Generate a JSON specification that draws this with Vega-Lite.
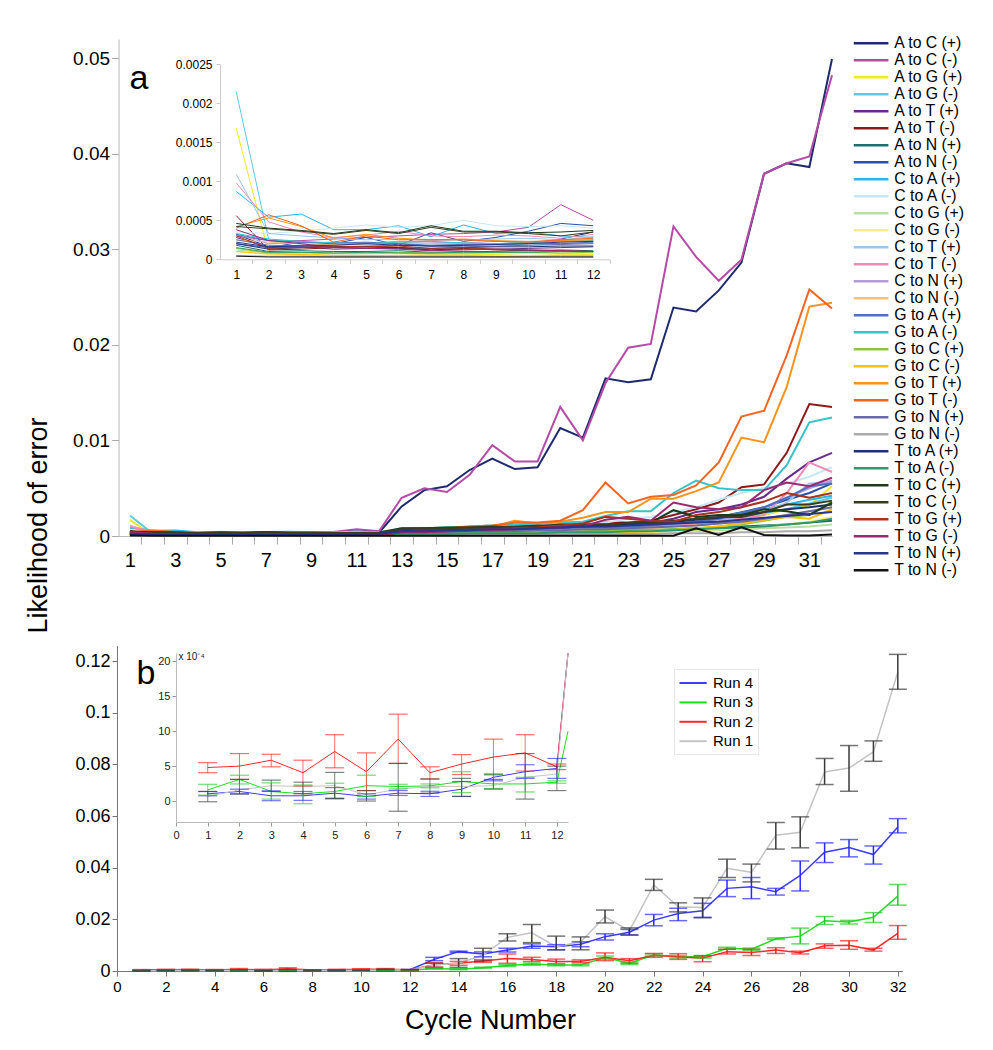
{
"$schema": "https://vega.github.io/schema/vega-lite/v6.json",
"width": 993, "height": 1050, "autosize": "none", "padding": 0, "background": "white",
"config": {"view": {"stroke": null}, "font": "Liberation Sans",
 "axis": {"grid": false, "labelFont": "Liberation Sans", "titleFont": "Liberation Sans", "labelColor": "#000", "titleColor": "#000", "titleFontWeight": "normal", "labelFlush": false, "labelOverlap": false, "labelBound": false, "domainColor": "#aaa", "tickColor": "#999"},
 "legend": {"labelFont": "Liberation Sans", "labelColor": "#000"}},
"datasets": {
"a": [
{"s":"AC+","c":1,"v":0.00032},{"s":"AC+","c":2,"v":0.00016},{"s":"AC+","c":3,"v":0.00018},{"s":"AC+","c":4,"v":0.00019},{"s":"AC+","c":5,"v":0.0002},{"s":"AC+","c":6,"v":0.0002},{"s":"AC+","c":7,"v":0.00017},{"s":"AC+","c":8,"v":0.00018},{"s":"AC+","c":9,"v":0.00019},{"s":"AC+","c":10,"v":0.0002},{"s":"AC+","c":11,"v":0.00026},{"s":"AC+","c":12,"v":0.00035},{"s":"AC+","c":13,"v":0.0031},{"s":"AC+","c":14,"v":0.0048},{"s":"AC+","c":15,"v":0.0052},{"s":"AC+","c":16,"v":0.0069},{"s":"AC+","c":17,"v":0.0081},{"s":"AC+","c":18,"v":0.007},{"s":"AC+","c":19,"v":0.0072},{"s":"AC+","c":20,"v":0.0113},{"s":"AC+","c":21,"v":0.0103},{"s":"AC+","c":22,"v":0.0165},{"s":"AC+","c":23,"v":0.0161},{"s":"AC+","c":24,"v":0.0164},{"s":"AC+","c":25,"v":0.0239},{"s":"AC+","c":26,"v":0.0235},{"s":"AC+","c":27,"v":0.0257},{"s":"AC+","c":28,"v":0.0286},{"s":"AC+","c":29,"v":0.0379},{"s":"AC+","c":30,"v":0.039},{"s":"AC+","c":31,"v":0.0386},{"s":"AC+","c":32,"v":0.0499},
{"s":"AC-","c":1,"v":0.0003},{"s":"AC-","c":2,"v":0.00024},{"s":"AC-","c":3,"v":0.00024},{"s":"AC-","c":4,"v":0.00026},{"s":"AC-","c":5,"v":0.00028},{"s":"AC-","c":6,"v":0.0003},{"s":"AC-","c":7,"v":0.00032},{"s":"AC-","c":8,"v":0.00033},{"s":"AC-","c":9,"v":0.00035},{"s":"AC-","c":10,"v":0.00041},{"s":"AC-","c":11,"v":0.0007},{"s":"AC-","c":12,"v":0.0005},{"s":"AC-","c":13,"v":0.004},{"s":"AC-","c":14,"v":0.005},{"s":"AC-","c":15,"v":0.0046},{"s":"AC-","c":16,"v":0.0064},{"s":"AC-","c":17,"v":0.0095},{"s":"AC-","c":18,"v":0.0078},{"s":"AC-","c":19,"v":0.0078},{"s":"AC-","c":20,"v":0.0135},{"s":"AC-","c":21,"v":0.01},{"s":"AC-","c":22,"v":0.016},{"s":"AC-","c":23,"v":0.0197},{"s":"AC-","c":24,"v":0.0201},{"s":"AC-","c":25,"v":0.0324},{"s":"AC-","c":26,"v":0.0292},{"s":"AC-","c":27,"v":0.0267},{"s":"AC-","c":28,"v":0.0289},{"s":"AC-","c":29,"v":0.0379},{"s":"AC-","c":30,"v":0.039},{"s":"AC-","c":31,"v":0.0397},{"s":"AC-","c":32,"v":0.0482},
{"s":"AG+","c":1,"v":0.00168},{"s":"AG+","c":2,"v":0.00008},{"s":"AG+","c":3,"v":0.00007},{"s":"AG+","c":4,"v":0.00005},{"s":"AG+","c":5,"v":0.00005},{"s":"AG+","c":6,"v":0.00005},{"s":"AG+","c":7,"v":0.00006},{"s":"AG+","c":8,"v":0.00006},{"s":"AG+","c":9,"v":0.00006},{"s":"AG+","c":10,"v":0.00005},{"s":"AG+","c":11,"v":0.00006},{"s":"AG+","c":12,"v":0.00006},{"s":"AG+","c":13,"v":0.0001},{"s":"AG+","c":14,"v":0.00015},{"s":"AG+","c":15,"v":0.0002},{"s":"AG+","c":16,"v":0.00025},{"s":"AG+","c":17,"v":0.0003},{"s":"AG+","c":18,"v":0.0003},{"s":"AG+","c":19,"v":0.0004},{"s":"AG+","c":20,"v":0.0005},{"s":"AG+","c":21,"v":0.0006},{"s":"AG+","c":22,"v":0.0007},{"s":"AG+","c":23,"v":0.0007},{"s":"AG+","c":24,"v":0.0008},{"s":"AG+","c":25,"v":0.001},{"s":"AG+","c":26,"v":0.0012},{"s":"AG+","c":27,"v":0.0015},{"s":"AG+","c":28,"v":0.0018},{"s":"AG+","c":29,"v":0.0022},{"s":"AG+","c":30,"v":0.0028},{"s":"AG+","c":31,"v":0.0032},{"s":"AG+","c":32,"v":0.0052},
{"s":"AG-","c":1,"v":0.00215},{"s":"AG-","c":2,"v":0.00025},{"s":"AG-","c":3,"v":0.00022},{"s":"AG-","c":4,"v":0.0002},{"s":"AG-","c":5,"v":0.00021},{"s":"AG-","c":6,"v":0.00022},{"s":"AG-","c":7,"v":0.0002},{"s":"AG-","c":8,"v":0.0002},{"s":"AG-","c":9,"v":0.00019},{"s":"AG-","c":10,"v":0.00018},{"s":"AG-","c":11,"v":0.0002},{"s":"AG-","c":12,"v":0.00021},{"s":"AG-","c":13,"v":0.0003},{"s":"AG-","c":14,"v":0.0003},{"s":"AG-","c":15,"v":0.0004},{"s":"AG-","c":16,"v":0.0005},{"s":"AG-","c":17,"v":0.0005},{"s":"AG-","c":18,"v":0.0006},{"s":"AG-","c":19,"v":0.0006},{"s":"AG-","c":20,"v":0.0007},{"s":"AG-","c":21,"v":0.0008},{"s":"AG-","c":22,"v":0.0009},{"s":"AG-","c":23,"v":0.001},{"s":"AG-","c":24,"v":0.0011},{"s":"AG-","c":25,"v":0.0013},{"s":"AG-","c":26,"v":0.0015},{"s":"AG-","c":27,"v":0.0017},{"s":"AG-","c":28,"v":0.002},{"s":"AG-","c":29,"v":0.0024},{"s":"AG-","c":30,"v":0.0028},{"s":"AG-","c":31,"v":0.0034},{"s":"AG-","c":32,"v":0.004},
{"s":"AT+","c":1,"v":0.00028},{"s":"AT+","c":2,"v":0.00015},{"s":"AT+","c":3,"v":0.00016},{"s":"AT+","c":4,"v":0.00013},{"s":"AT+","c":5,"v":0.00014},{"s":"AT+","c":6,"v":0.00014},{"s":"AT+","c":7,"v":0.00012},{"s":"AT+","c":8,"v":0.00013},{"s":"AT+","c":9,"v":0.00013},{"s":"AT+","c":10,"v":0.00014},{"s":"AT+","c":11,"v":0.00015},{"s":"AT+","c":12,"v":0.00016},{"s":"AT+","c":13,"v":0.0004},{"s":"AT+","c":14,"v":0.0004},{"s":"AT+","c":15,"v":0.0005},{"s":"AT+","c":16,"v":0.0005},{"s":"AT+","c":17,"v":0.0006},{"s":"AT+","c":18,"v":0.0006},{"s":"AT+","c":19,"v":0.0007},{"s":"AT+","c":20,"v":0.0008},{"s":"AT+","c":21,"v":0.0009},{"s":"AT+","c":22,"v":0.001},{"s":"AT+","c":23,"v":0.0012},{"s":"AT+","c":24,"v":0.0014},{"s":"AT+","c":25,"v":0.0018},{"s":"AT+","c":26,"v":0.0025},{"s":"AT+","c":27,"v":0.0028},{"s":"AT+","c":28,"v":0.0033},{"s":"AT+","c":29,"v":0.0041},{"s":"AT+","c":30,"v":0.006},{"s":"AT+","c":31,"v":0.0077},{"s":"AT+","c":32,"v":0.0087},
{"s":"AT-","c":1,"v":0.00056},{"s":"AT-","c":2,"v":0.00012},{"s":"AT-","c":3,"v":0.00013},{"s":"AT-","c":4,"v":0.00015},{"s":"AT-","c":5,"v":0.00016},{"s":"AT-","c":6,"v":0.00015},{"s":"AT-","c":7,"v":0.00012},{"s":"AT-","c":8,"v":0.00014},{"s":"AT-","c":9,"v":0.00012},{"s":"AT-","c":10,"v":0.00011},{"s":"AT-","c":11,"v":0.0001},{"s":"AT-","c":12,"v":0.0001},{"s":"AT-","c":13,"v":0.0005},{"s":"AT-","c":14,"v":0.0006},{"s":"AT-","c":15,"v":0.0006},{"s":"AT-","c":16,"v":0.0008},{"s":"AT-","c":17,"v":0.0009},{"s":"AT-","c":18,"v":0.0009},{"s":"AT-","c":19,"v":0.001},{"s":"AT-","c":20,"v":0.0012},{"s":"AT-","c":21,"v":0.0013},{"s":"AT-","c":22,"v":0.0014},{"s":"AT-","c":23,"v":0.0014},{"s":"AT-","c":24,"v":0.0016},{"s":"AT-","c":25,"v":0.0022},{"s":"AT-","c":26,"v":0.0028},{"s":"AT-","c":27,"v":0.0035},{"s":"AT-","c":28,"v":0.0051},{"s":"AT-","c":29,"v":0.0054},{"s":"AT-","c":30,"v":0.0087},{"s":"AT-","c":31,"v":0.0138},{"s":"AT-","c":32,"v":0.0135},
{"s":"AN+","c":1,"v":0.00018},{"s":"AN+","c":2,"v":0.0001},{"s":"AN+","c":3,"v":0.00011},{"s":"AN+","c":4,"v":0.0001},{"s":"AN+","c":5,"v":0.0001},{"s":"AN+","c":6,"v":0.00011},{"s":"AN+","c":7,"v":0.00009},{"s":"AN+","c":8,"v":0.0001},{"s":"AN+","c":9,"v":0.0001},{"s":"AN+","c":10,"v":0.00011},{"s":"AN+","c":11,"v":0.00012},{"s":"AN+","c":12,"v":0.00011},{"s":"AN+","c":13,"v":0.0003},{"s":"AN+","c":14,"v":0.0003},{"s":"AN+","c":15,"v":0.0003},{"s":"AN+","c":16,"v":0.0004},{"s":"AN+","c":17,"v":0.0004},{"s":"AN+","c":18,"v":0.0004},{"s":"AN+","c":19,"v":0.0005},{"s":"AN+","c":20,"v":0.0005},{"s":"AN+","c":21,"v":0.0005},{"s":"AN+","c":22,"v":0.0006},{"s":"AN+","c":23,"v":0.0006},{"s":"AN+","c":24,"v":0.0006},{"s":"AN+","c":25,"v":0.0007},{"s":"AN+","c":26,"v":0.0008},{"s":"AN+","c":27,"v":0.0009},{"s":"AN+","c":28,"v":0.001},{"s":"AN+","c":29,"v":0.0011},{"s":"AN+","c":30,"v":0.0012},{"s":"AN+","c":31,"v":0.0014},{"s":"AN+","c":32,"v":0.0016},
{"s":"AN-","c":1,"v":0.0002},{"s":"AN-","c":2,"v":0.00015},{"s":"AN-","c":3,"v":0.00022},{"s":"AN-","c":4,"v":0.0002},{"s":"AN-","c":5,"v":0.00028},{"s":"AN-","c":6,"v":0.00018},{"s":"AN-","c":7,"v":0.00034},{"s":"AN-","c":8,"v":0.00023},{"s":"AN-","c":9,"v":0.00028},{"s":"AN-","c":10,"v":0.00036},{"s":"AN-","c":11,"v":0.00046},{"s":"AN-","c":12,"v":0.00043},{"s":"AN-","c":13,"v":0.0006},{"s":"AN-","c":14,"v":0.0007},{"s":"AN-","c":15,"v":0.0007},{"s":"AN-","c":16,"v":0.0008},{"s":"AN-","c":17,"v":0.0008},{"s":"AN-","c":18,"v":0.0009},{"s":"AN-","c":19,"v":0.0009},{"s":"AN-","c":20,"v":0.001},{"s":"AN-","c":21,"v":0.0011},{"s":"AN-","c":22,"v":0.0012},{"s":"AN-","c":23,"v":0.0012},{"s":"AN-","c":24,"v":0.0014},{"s":"AN-","c":25,"v":0.0015},{"s":"AN-","c":26,"v":0.0018},{"s":"AN-","c":27,"v":0.002},{"s":"AN-","c":28,"v":0.0025},{"s":"AN-","c":29,"v":0.003},{"s":"AN-","c":30,"v":0.0038},{"s":"AN-","c":31,"v":0.0045},{"s":"AN-","c":32,"v":0.0055},
{"s":"CA+","c":1,"v":0.00087},{"s":"CA+","c":2,"v":0.00054},{"s":"CA+","c":3,"v":0.00058},{"s":"CA+","c":4,"v":0.00038},{"s":"CA+","c":5,"v":0.00038},{"s":"CA+","c":6,"v":0.00043},{"s":"CA+","c":7,"v":0.00029},{"s":"CA+","c":8,"v":0.00044},{"s":"CA+","c":9,"v":0.00033},{"s":"CA+","c":10,"v":0.00035},{"s":"CA+","c":11,"v":0.0003},{"s":"CA+","c":12,"v":0.00028},{"s":"CA+","c":13,"v":0.0007},{"s":"CA+","c":14,"v":0.0007},{"s":"CA+","c":15,"v":0.0008},{"s":"CA+","c":16,"v":0.0008},{"s":"CA+","c":17,"v":0.0009},{"s":"CA+","c":18,"v":0.0009},{"s":"CA+","c":19,"v":0.001},{"s":"CA+","c":20,"v":0.001},{"s":"CA+","c":21,"v":0.0011},{"s":"CA+","c":22,"v":0.0011},{"s":"CA+","c":23,"v":0.0012},{"s":"CA+","c":24,"v":0.0013},{"s":"CA+","c":25,"v":0.0015},{"s":"CA+","c":26,"v":0.0018},{"s":"CA+","c":27,"v":0.002},{"s":"CA+","c":28,"v":0.0024},{"s":"CA+","c":29,"v":0.0028},{"s":"CA+","c":30,"v":0.0033},{"s":"CA+","c":31,"v":0.0038},{"s":"CA+","c":32,"v":0.0042},
{"s":"CA-","c":1,"v":0.00035},{"s":"CA-","c":2,"v":0.00033},{"s":"CA-","c":3,"v":0.00036},{"s":"CA-","c":4,"v":0.0004},{"s":"CA-","c":5,"v":0.00044},{"s":"CA-","c":6,"v":0.00041},{"s":"CA-","c":7,"v":0.00043},{"s":"CA-","c":8,"v":0.0005},{"s":"CA-","c":9,"v":0.00043},{"s":"CA-","c":10,"v":0.00042},{"s":"CA-","c":11,"v":0.00043},{"s":"CA-","c":12,"v":0.0004},{"s":"CA-","c":13,"v":0.0008},{"s":"CA-","c":14,"v":0.0008},{"s":"CA-","c":15,"v":0.0009},{"s":"CA-","c":16,"v":0.0009},{"s":"CA-","c":17,"v":0.001},{"s":"CA-","c":18,"v":0.001},{"s":"CA-","c":19,"v":0.0011},{"s":"CA-","c":20,"v":0.0012},{"s":"CA-","c":21,"v":0.0013},{"s":"CA-","c":22,"v":0.0014},{"s":"CA-","c":23,"v":0.0018},{"s":"CA-","c":24,"v":0.002},{"s":"CA-","c":25,"v":0.0025},{"s":"CA-","c":26,"v":0.003},{"s":"CA-","c":27,"v":0.0038},{"s":"CA-","c":28,"v":0.0045},{"s":"CA-","c":29,"v":0.005},{"s":"CA-","c":30,"v":0.0055},{"s":"CA-","c":31,"v":0.0062},{"s":"CA-","c":32,"v":0.0072},
{"s":"CG+","c":1,"v":0.00012},{"s":"CG+","c":2,"v":0.00008},{"s":"CG+","c":3,"v":0.00008},{"s":"CG+","c":4,"v":0.00007},{"s":"CG+","c":5,"v":0.00007},{"s":"CG+","c":6,"v":0.00008},{"s":"CG+","c":7,"v":0.00007},{"s":"CG+","c":8,"v":0.00007},{"s":"CG+","c":9,"v":0.00008},{"s":"CG+","c":10,"v":0.00008},{"s":"CG+","c":11,"v":0.00008},{"s":"CG+","c":12,"v":0.00008},{"s":"CG+","c":13,"v":0.0001},{"s":"CG+","c":14,"v":0.0001},{"s":"CG+","c":15,"v":0.0002},{"s":"CG+","c":16,"v":0.0002},{"s":"CG+","c":17,"v":0.0002},{"s":"CG+","c":18,"v":0.0002},{"s":"CG+","c":19,"v":0.0003},{"s":"CG+","c":20,"v":0.0003},{"s":"CG+","c":21,"v":0.0003},{"s":"CG+","c":22,"v":0.0003},{"s":"CG+","c":23,"v":0.0004},{"s":"CG+","c":24,"v":0.0004},{"s":"CG+","c":25,"v":0.0005},{"s":"CG+","c":26,"v":0.0005},{"s":"CG+","c":27,"v":0.0006},{"s":"CG+","c":28,"v":0.0007},{"s":"CG+","c":29,"v":0.0008},{"s":"CG+","c":30,"v":0.0009},{"s":"CG+","c":31,"v":0.001},{"s":"CG+","c":32,"v":0.0012},
{"s":"CG-","c":1,"v":0.0001},{"s":"CG-","c":2,"v":0.00006},{"s":"CG-","c":3,"v":0.00005},{"s":"CG-","c":4,"v":0.00004},{"s":"CG-","c":5,"v":0.00004},{"s":"CG-","c":6,"v":0.00005},{"s":"CG-","c":7,"v":0.00004},{"s":"CG-","c":8,"v":0.00004},{"s":"CG-","c":9,"v":0.00004},{"s":"CG-","c":10,"v":0.00003},{"s":"CG-","c":11,"v":0.00004},{"s":"CG-","c":12,"v":0.00004},{"s":"CG-","c":13,"v":0.0001},{"s":"CG-","c":14,"v":0.0001},{"s":"CG-","c":15,"v":0.0001},{"s":"CG-","c":16,"v":0.0002},{"s":"CG-","c":17,"v":0.0002},{"s":"CG-","c":18,"v":0.0002},{"s":"CG-","c":19,"v":0.0002},{"s":"CG-","c":20,"v":0.0003},{"s":"CG-","c":21,"v":0.0003},{"s":"CG-","c":22,"v":0.0003},{"s":"CG-","c":23,"v":0.0004},{"s":"CG-","c":24,"v":0.0004},{"s":"CG-","c":25,"v":0.0005},{"s":"CG-","c":26,"v":0.0006},{"s":"CG-","c":27,"v":0.0007},{"s":"CG-","c":28,"v":0.0008},{"s":"CG-","c":29,"v":0.001},{"s":"CG-","c":30,"v":0.0012},{"s":"CG-","c":31,"v":0.0015},{"s":"CG-","c":32,"v":0.002},
{"s":"CT+","c":1,"v":0.00109},{"s":"CT+","c":2,"v":0.00033},{"s":"CT+","c":3,"v":0.0003},{"s":"CT+","c":4,"v":0.00027},{"s":"CT+","c":5,"v":0.00025},{"s":"CT+","c":6,"v":0.00026},{"s":"CT+","c":7,"v":0.00024},{"s":"CT+","c":8,"v":0.00025},{"s":"CT+","c":9,"v":0.00026},{"s":"CT+","c":10,"v":0.00027},{"s":"CT+","c":11,"v":0.00025},{"s":"CT+","c":12,"v":0.00029},{"s":"CT+","c":13,"v":0.0005},{"s":"CT+","c":14,"v":0.0005},{"s":"CT+","c":15,"v":0.0005},{"s":"CT+","c":16,"v":0.0006},{"s":"CT+","c":17,"v":0.0006},{"s":"CT+","c":18,"v":0.0006},{"s":"CT+","c":19,"v":0.0007},{"s":"CT+","c":20,"v":0.0007},{"s":"CT+","c":21,"v":0.0008},{"s":"CT+","c":22,"v":0.0008},{"s":"CT+","c":23,"v":0.0009},{"s":"CT+","c":24,"v":0.001},{"s":"CT+","c":25,"v":0.0012},{"s":"CT+","c":26,"v":0.0014},{"s":"CT+","c":27,"v":0.0016},{"s":"CT+","c":28,"v":0.002},{"s":"CT+","c":29,"v":0.0025},{"s":"CT+","c":30,"v":0.0035},{"s":"CT+","c":31,"v":0.0055},{"s":"CT+","c":32,"v":0.0056},
{"s":"CT-","c":1,"v":0.00098},{"s":"CT-","c":2,"v":0.00048},{"s":"CT-","c":3,"v":0.00035},{"s":"CT-","c":4,"v":0.00028},{"s":"CT-","c":5,"v":0.00031},{"s":"CT-","c":6,"v":0.00036},{"s":"CT-","c":7,"v":0.0003},{"s":"CT-","c":8,"v":0.00029},{"s":"CT-","c":9,"v":0.00031},{"s":"CT-","c":10,"v":0.0003},{"s":"CT-","c":11,"v":0.00027},{"s":"CT-","c":12,"v":0.00032},{"s":"CT-","c":13,"v":0.0004},{"s":"CT-","c":14,"v":0.0004},{"s":"CT-","c":15,"v":0.0005},{"s":"CT-","c":16,"v":0.0005},{"s":"CT-","c":17,"v":0.0005},{"s":"CT-","c":18,"v":0.0006},{"s":"CT-","c":19,"v":0.0006},{"s":"CT-","c":20,"v":0.0007},{"s":"CT-","c":21,"v":0.0007},{"s":"CT-","c":22,"v":0.0008},{"s":"CT-","c":23,"v":0.0009},{"s":"CT-","c":24,"v":0.001},{"s":"CT-","c":25,"v":0.0011},{"s":"CT-","c":26,"v":0.0013},{"s":"CT-","c":27,"v":0.0015},{"s":"CT-","c":28,"v":0.0018},{"s":"CT-","c":29,"v":0.0022},{"s":"CT-","c":30,"v":0.0045},{"s":"CT-","c":31,"v":0.0077},{"s":"CT-","c":32,"v":0.0067},
{"s":"CN+","c":1,"v":0.00032},{"s":"CN+","c":2,"v":0.0002},{"s":"CN+","c":3,"v":0.00021},{"s":"CN+","c":4,"v":0.00022},{"s":"CN+","c":5,"v":0.00021},{"s":"CN+","c":6,"v":0.00023},{"s":"CN+","c":7,"v":0.00022},{"s":"CN+","c":8,"v":0.00021},{"s":"CN+","c":9,"v":0.00023},{"s":"CN+","c":10,"v":0.00022},{"s":"CN+","c":11,"v":0.00024},{"s":"CN+","c":12,"v":0.00025},{"s":"CN+","c":13,"v":0.0004},{"s":"CN+","c":14,"v":0.0004},{"s":"CN+","c":15,"v":0.0005},{"s":"CN+","c":16,"v":0.0005},{"s":"CN+","c":17,"v":0.0005},{"s":"CN+","c":18,"v":0.0006},{"s":"CN+","c":19,"v":0.0006},{"s":"CN+","c":20,"v":0.0007},{"s":"CN+","c":21,"v":0.0007},{"s":"CN+","c":22,"v":0.0008},{"s":"CN+","c":23,"v":0.0009},{"s":"CN+","c":24,"v":0.001},{"s":"CN+","c":25,"v":0.0012},{"s":"CN+","c":26,"v":0.0014},{"s":"CN+","c":27,"v":0.0017},{"s":"CN+","c":28,"v":0.0022},{"s":"CN+","c":29,"v":0.003},{"s":"CN+","c":30,"v":0.004},{"s":"CN+","c":31,"v":0.005},{"s":"CN+","c":32,"v":0.0058},
{"s":"CN-","c":1,"v":0.00025},{"s":"CN-","c":2,"v":0.00022},{"s":"CN-","c":3,"v":0.0002},{"s":"CN-","c":4,"v":0.00019},{"s":"CN-","c":5,"v":0.0002},{"s":"CN-","c":6,"v":0.00021},{"s":"CN-","c":7,"v":0.0002},{"s":"CN-","c":8,"v":0.00019},{"s":"CN-","c":9,"v":0.0002},{"s":"CN-","c":10,"v":0.00021},{"s":"CN-","c":11,"v":0.00022},{"s":"CN-","c":12,"v":0.00023},{"s":"CN-","c":13,"v":0.0004},{"s":"CN-","c":14,"v":0.0004},{"s":"CN-","c":15,"v":0.0004},{"s":"CN-","c":16,"v":0.0005},{"s":"CN-","c":17,"v":0.0005},{"s":"CN-","c":18,"v":0.0005},{"s":"CN-","c":19,"v":0.0006},{"s":"CN-","c":20,"v":0.0006},{"s":"CN-","c":21,"v":0.0007},{"s":"CN-","c":22,"v":0.0007},{"s":"CN-","c":23,"v":0.0008},{"s":"CN-","c":24,"v":0.0008},{"s":"CN-","c":25,"v":0.001},{"s":"CN-","c":26,"v":0.0011},{"s":"CN-","c":27,"v":0.0013},{"s":"CN-","c":28,"v":0.0015},{"s":"CN-","c":29,"v":0.0018},{"s":"CN-","c":30,"v":0.0022},{"s":"CN-","c":31,"v":0.0026},{"s":"CN-","c":32,"v":0.003},
{"s":"GA+","c":1,"v":0.00032},{"s":"GA+","c":2,"v":0.00024},{"s":"GA+","c":3,"v":0.00022},{"s":"GA+","c":4,"v":0.00021},{"s":"GA+","c":5,"v":0.00022},{"s":"GA+","c":6,"v":0.0002},{"s":"GA+","c":7,"v":0.00018},{"s":"GA+","c":8,"v":0.00019},{"s":"GA+","c":9,"v":0.0002},{"s":"GA+","c":10,"v":0.00021},{"s":"GA+","c":11,"v":0.0002},{"s":"GA+","c":12,"v":0.00022},{"s":"GA+","c":13,"v":0.0005},{"s":"GA+","c":14,"v":0.0005},{"s":"GA+","c":15,"v":0.0006},{"s":"GA+","c":16,"v":0.0006},{"s":"GA+","c":17,"v":0.0006},{"s":"GA+","c":18,"v":0.0007},{"s":"GA+","c":19,"v":0.0007},{"s":"GA+","c":20,"v":0.0008},{"s":"GA+","c":21,"v":0.0009},{"s":"GA+","c":22,"v":0.0009},{"s":"GA+","c":23,"v":0.001},{"s":"GA+","c":24,"v":0.0011},{"s":"GA+","c":25,"v":0.0013},{"s":"GA+","c":26,"v":0.0015},{"s":"GA+","c":27,"v":0.0018},{"s":"GA+","c":28,"v":0.0024},{"s":"GA+","c":29,"v":0.003},{"s":"GA+","c":30,"v":0.004},{"s":"GA+","c":31,"v":0.0052},{"s":"GA+","c":32,"v":0.0055},
{"s":"GA-","c":1,"v":0.00033},{"s":"GA-","c":2,"v":0.00026},{"s":"GA-","c":3,"v":0.00023},{"s":"GA-","c":4,"v":0.00021},{"s":"GA-","c":5,"v":0.0002},{"s":"GA-","c":6,"v":0.00022},{"s":"GA-","c":7,"v":0.00023},{"s":"GA-","c":8,"v":0.00021},{"s":"GA-","c":9,"v":0.0002},{"s":"GA-","c":10,"v":0.00022},{"s":"GA-","c":11,"v":0.00023},{"s":"GA-","c":12,"v":0.00024},{"s":"GA-","c":13,"v":0.0008},{"s":"GA-","c":14,"v":0.0008},{"s":"GA-","c":15,"v":0.0009},{"s":"GA-","c":16,"v":0.001},{"s":"GA-","c":17,"v":0.0011},{"s":"GA-","c":18,"v":0.0012},{"s":"GA-","c":19,"v":0.0013},{"s":"GA-","c":20,"v":0.0014},{"s":"GA-","c":21,"v":0.0015},{"s":"GA-","c":22,"v":0.0021},{"s":"GA-","c":23,"v":0.0026},{"s":"GA-","c":24,"v":0.0026},{"s":"GA-","c":25,"v":0.0045},{"s":"GA-","c":26,"v":0.0058},{"s":"GA-","c":27,"v":0.005},{"s":"GA-","c":28,"v":0.0048},{"s":"GA-","c":29,"v":0.0048},{"s":"GA-","c":30,"v":0.0074},{"s":"GA-","c":31,"v":0.0119},{"s":"GA-","c":32,"v":0.0124},
{"s":"GC+","c":1,"v":0.00014},{"s":"GC+","c":2,"v":0.00008},{"s":"GC+","c":3,"v":0.00009},{"s":"GC+","c":4,"v":0.00008},{"s":"GC+","c":5,"v":0.00008},{"s":"GC+","c":6,"v":0.00009},{"s":"GC+","c":7,"v":0.00008},{"s":"GC+","c":8,"v":0.00008},{"s":"GC+","c":9,"v":0.00009},{"s":"GC+","c":10,"v":0.00009},{"s":"GC+","c":11,"v":0.00008},{"s":"GC+","c":12,"v":0.00009},{"s":"GC+","c":13,"v":0.0002},{"s":"GC+","c":14,"v":0.0002},{"s":"GC+","c":15,"v":0.0003},{"s":"GC+","c":16,"v":0.0003},{"s":"GC+","c":17,"v":0.0003},{"s":"GC+","c":18,"v":0.0004},{"s":"GC+","c":19,"v":0.0004},{"s":"GC+","c":20,"v":0.0004},{"s":"GC+","c":21,"v":0.0005},{"s":"GC+","c":22,"v":0.0005},{"s":"GC+","c":23,"v":0.0006},{"s":"GC+","c":24,"v":0.0006},{"s":"GC+","c":25,"v":0.0007},{"s":"GC+","c":26,"v":0.0008},{"s":"GC+","c":27,"v":0.001},{"s":"GC+","c":28,"v":0.0012},{"s":"GC+","c":29,"v":0.0016},{"s":"GC+","c":30,"v":0.002},{"s":"GC+","c":31,"v":0.0022},{"s":"GC+","c":32,"v":0.0036},
{"s":"GC-","c":1,"v":0.0001},{"s":"GC-","c":2,"v":0.00007},{"s":"GC-","c":3,"v":0.00006},{"s":"GC-","c":4,"v":0.00005},{"s":"GC-","c":5,"v":0.00005},{"s":"GC-","c":6,"v":0.00005},{"s":"GC-","c":7,"v":0.00005},{"s":"GC-","c":8,"v":0.00005},{"s":"GC-","c":9,"v":0.00004},{"s":"GC-","c":10,"v":0.00004},{"s":"GC-","c":11,"v":0.00005},{"s":"GC-","c":12,"v":0.00005},{"s":"GC-","c":13,"v":0.0001},{"s":"GC-","c":14,"v":0.0001},{"s":"GC-","c":15,"v":0.0002},{"s":"GC-","c":16,"v":0.0002},{"s":"GC-","c":17,"v":0.0002},{"s":"GC-","c":18,"v":0.0002},{"s":"GC-","c":19,"v":0.0003},{"s":"GC-","c":20,"v":0.0003},{"s":"GC-","c":21,"v":0.0003},{"s":"GC-","c":22,"v":0.0004},{"s":"GC-","c":23,"v":0.0004},{"s":"GC-","c":24,"v":0.0005},{"s":"GC-","c":25,"v":0.0006},{"s":"GC-","c":26,"v":0.0008},{"s":"GC-","c":27,"v":0.001},{"s":"GC-","c":28,"v":0.0013},{"s":"GC-","c":29,"v":0.0017},{"s":"GC-","c":30,"v":0.002},{"s":"GC-","c":31,"v":0.0018},{"s":"GC-","c":32,"v":0.0028},
{"s":"GT+","c":1,"v":0.00042},{"s":"GT+","c":2,"v":0.00053},{"s":"GT+","c":3,"v":0.00042},{"s":"GT+","c":4,"v":0.00027},{"s":"GT+","c":5,"v":0.00032},{"s":"GT+","c":6,"v":0.00027},{"s":"GT+","c":7,"v":0.00025},{"s":"GT+","c":8,"v":0.00026},{"s":"GT+","c":9,"v":0.00024},{"s":"GT+","c":10,"v":0.00023},{"s":"GT+","c":11,"v":0.00024},{"s":"GT+","c":12,"v":0.00025},{"s":"GT+","c":13,"v":0.0006},{"s":"GT+","c":14,"v":0.0007},{"s":"GT+","c":15,"v":0.0008},{"s":"GT+","c":16,"v":0.0009},{"s":"GT+","c":17,"v":0.001},{"s":"GT+","c":18,"v":0.0016},{"s":"GT+","c":19,"v":0.0013},{"s":"GT+","c":20,"v":0.0015},{"s":"GT+","c":21,"v":0.0019},{"s":"GT+","c":22,"v":0.0025},{"s":"GT+","c":23,"v":0.0025},{"s":"GT+","c":24,"v":0.0039},{"s":"GT+","c":25,"v":0.0039},{"s":"GT+","c":26,"v":0.0047},{"s":"GT+","c":27,"v":0.0056},{"s":"GT+","c":28,"v":0.0103},{"s":"GT+","c":29,"v":0.0098},{"s":"GT+","c":30,"v":0.0156},{"s":"GT+","c":31,"v":0.024},{"s":"GT+","c":32,"v":0.0244},
{"s":"GT-","c":1,"v":0.0004},{"s":"GT-","c":2,"v":0.00057},{"s":"GT-","c":3,"v":0.00043},{"s":"GT-","c":4,"v":0.00022},{"s":"GT-","c":5,"v":0.0003},{"s":"GT-","c":6,"v":0.00025},{"s":"GT-","c":7,"v":0.00025},{"s":"GT-","c":8,"v":0.00025},{"s":"GT-","c":9,"v":0.00023},{"s":"GT-","c":10,"v":0.00022},{"s":"GT-","c":11,"v":0.00025},{"s":"GT-","c":12,"v":0.00027},{"s":"GT-","c":13,"v":0.0006},{"s":"GT-","c":14,"v":0.0007},{"s":"GT-","c":15,"v":0.0008},{"s":"GT-","c":16,"v":0.001},{"s":"GT-","c":17,"v":0.0011},{"s":"GT-","c":18,"v":0.0014},{"s":"GT-","c":19,"v":0.0014},{"s":"GT-","c":20,"v":0.0016},{"s":"GT-","c":21,"v":0.0027},{"s":"GT-","c":22,"v":0.0056},{"s":"GT-","c":23,"v":0.0034},{"s":"GT-","c":24,"v":0.0041},{"s":"GT-","c":25,"v":0.0043},{"s":"GT-","c":26,"v":0.0053},{"s":"GT-","c":27,"v":0.0077},{"s":"GT-","c":28,"v":0.0125},{"s":"GT-","c":29,"v":0.0131},{"s":"GT-","c":30,"v":0.0189},{"s":"GT-","c":31,"v":0.0258},{"s":"GT-","c":32,"v":0.0238},
{"s":"GN+","c":1,"v":0.00025},{"s":"GN+","c":2,"v":0.00018},{"s":"GN+","c":3,"v":0.00017},{"s":"GN+","c":4,"v":0.00016},{"s":"GN+","c":5,"v":0.00017},{"s":"GN+","c":6,"v":0.00018},{"s":"GN+","c":7,"v":0.00017},{"s":"GN+","c":8,"v":0.00016},{"s":"GN+","c":9,"v":0.00017},{"s":"GN+","c":10,"v":0.00018},{"s":"GN+","c":11,"v":0.00019},{"s":"GN+","c":12,"v":0.0002},{"s":"GN+","c":13,"v":0.0004},{"s":"GN+","c":14,"v":0.0004},{"s":"GN+","c":15,"v":0.0004},{"s":"GN+","c":16,"v":0.0005},{"s":"GN+","c":17,"v":0.0005},{"s":"GN+","c":18,"v":0.0005},{"s":"GN+","c":19,"v":0.0006},{"s":"GN+","c":20,"v":0.0006},{"s":"GN+","c":21,"v":0.0007},{"s":"GN+","c":22,"v":0.0007},{"s":"GN+","c":23,"v":0.0008},{"s":"GN+","c":24,"v":0.0009},{"s":"GN+","c":25,"v":0.001},{"s":"GN+","c":26,"v":0.0011},{"s":"GN+","c":27,"v":0.0013},{"s":"GN+","c":28,"v":0.0015},{"s":"GN+","c":29,"v":0.0018},{"s":"GN+","c":30,"v":0.0022},{"s":"GN+","c":31,"v":0.0026},{"s":"GN+","c":32,"v":0.003},
{"s":"GN-","c":1,"v":0.00005},{"s":"GN-","c":2,"v":0.00004},{"s":"GN-","c":3,"v":0.00004},{"s":"GN-","c":4,"v":0.00003},{"s":"GN-","c":5,"v":0.00003},{"s":"GN-","c":6,"v":0.00003},{"s":"GN-","c":7,"v":0.00003},{"s":"GN-","c":8,"v":0.00003},{"s":"GN-","c":9,"v":0.00003},{"s":"GN-","c":10,"v":0.00003},{"s":"GN-","c":11,"v":0.00003},{"s":"GN-","c":12,"v":0.00003},{"s":"GN-","c":13,"v":0.0001},{"s":"GN-","c":14,"v":0.0001},{"s":"GN-","c":15,"v":0.0001},{"s":"GN-","c":16,"v":0.0001},{"s":"GN-","c":17,"v":0.0001},{"s":"GN-","c":18,"v":0.0001},{"s":"GN-","c":19,"v":0.0002},{"s":"GN-","c":20,"v":0.0002},{"s":"GN-","c":21,"v":0.0002},{"s":"GN-","c":22,"v":0.0002},{"s":"GN-","c":23,"v":0.0002},{"s":"GN-","c":24,"v":0.0002},{"s":"GN-","c":25,"v":0.0003},{"s":"GN-","c":26,"v":0.0003},{"s":"GN-","c":27,"v":0.0003},{"s":"GN-","c":28,"v":0.0004},{"s":"GN-","c":29,"v":0.0004},{"s":"GN-","c":30,"v":0.0005},{"s":"GN-","c":31,"v":0.0005},{"s":"GN-","c":32,"v":0.0006},
{"s":"TA+","c":1,"v":0.0002},{"s":"TA+","c":2,"v":0.00013},{"s":"TA+","c":3,"v":0.00015},{"s":"TA+","c":4,"v":0.00016},{"s":"TA+","c":5,"v":0.00016},{"s":"TA+","c":6,"v":0.00015},{"s":"TA+","c":7,"v":0.00014},{"s":"TA+","c":8,"v":0.00015},{"s":"TA+","c":9,"v":0.00016},{"s":"TA+","c":10,"v":0.00016},{"s":"TA+","c":11,"v":0.00017},{"s":"TA+","c":12,"v":0.00017},{"s":"TA+","c":13,"v":0.0005},{"s":"TA+","c":14,"v":0.0006},{"s":"TA+","c":15,"v":0.0006},{"s":"TA+","c":16,"v":0.0007},{"s":"TA+","c":17,"v":0.0007},{"s":"TA+","c":18,"v":0.0008},{"s":"TA+","c":19,"v":0.0008},{"s":"TA+","c":20,"v":0.0009},{"s":"TA+","c":21,"v":0.001},{"s":"TA+","c":22,"v":0.0011},{"s":"TA+","c":23,"v":0.0012},{"s":"TA+","c":24,"v":0.0013},{"s":"TA+","c":25,"v":0.0015},{"s":"TA+","c":26,"v":0.0017},{"s":"TA+","c":27,"v":0.0019},{"s":"TA+","c":28,"v":0.0022},{"s":"TA+","c":29,"v":0.0025},{"s":"TA+","c":30,"v":0.0028},{"s":"TA+","c":31,"v":0.003},{"s":"TA+","c":32,"v":0.0033},
{"s":"TA-","c":1,"v":0.00015},{"s":"TA-","c":2,"v":0.00009},{"s":"TA-","c":3,"v":0.00009},{"s":"TA-","c":4,"v":0.00008},{"s":"TA-","c":5,"v":0.00009},{"s":"TA-","c":6,"v":0.00008},{"s":"TA-","c":7,"v":0.00008},{"s":"TA-","c":8,"v":0.00009},{"s":"TA-","c":9,"v":0.00009},{"s":"TA-","c":10,"v":0.00009},{"s":"TA-","c":11,"v":0.0001},{"s":"TA-","c":12,"v":0.0001},{"s":"TA-","c":13,"v":0.0002},{"s":"TA-","c":14,"v":0.0002},{"s":"TA-","c":15,"v":0.0002},{"s":"TA-","c":16,"v":0.0003},{"s":"TA-","c":17,"v":0.0003},{"s":"TA-","c":18,"v":0.0003},{"s":"TA-","c":19,"v":0.0003},{"s":"TA-","c":20,"v":0.0004},{"s":"TA-","c":21,"v":0.0004},{"s":"TA-","c":22,"v":0.0004},{"s":"TA-","c":23,"v":0.0005},{"s":"TA-","c":24,"v":0.0005},{"s":"TA-","c":25,"v":0.0006},{"s":"TA-","c":26,"v":0.0007},{"s":"TA-","c":27,"v":0.0008},{"s":"TA-","c":28,"v":0.0009},{"s":"TA-","c":29,"v":0.001},{"s":"TA-","c":30,"v":0.0012},{"s":"TA-","c":31,"v":0.0014},{"s":"TA-","c":32,"v":0.0018},
{"s":"TC+","c":1,"v":0.00046},{"s":"TC+","c":2,"v":0.0004},{"s":"TC+","c":3,"v":0.00037},{"s":"TC+","c":4,"v":0.00033},{"s":"TC+","c":5,"v":0.00038},{"s":"TC+","c":6,"v":0.00034},{"s":"TC+","c":7,"v":0.00043},{"s":"TC+","c":8,"v":0.00036},{"s":"TC+","c":9,"v":0.00036},{"s":"TC+","c":10,"v":0.00034},{"s":"TC+","c":11,"v":0.00035},{"s":"TC+","c":12,"v":0.00037},{"s":"TC+","c":13,"v":0.0008},{"s":"TC+","c":14,"v":0.0008},{"s":"TC+","c":15,"v":0.0009},{"s":"TC+","c":16,"v":0.0009},{"s":"TC+","c":17,"v":0.001},{"s":"TC+","c":18,"v":0.0009},{"s":"TC+","c":19,"v":0.001},{"s":"TC+","c":20,"v":0.0012},{"s":"TC+","c":21,"v":0.0012},{"s":"TC+","c":22,"v":0.0012},{"s":"TC+","c":23,"v":0.0013},{"s":"TC+","c":24,"v":0.0014},{"s":"TC+","c":25,"v":0.0027},{"s":"TC+","c":26,"v":0.002},{"s":"TC+","c":27,"v":0.0022},{"s":"TC+","c":28,"v":0.0022},{"s":"TC+","c":29,"v":0.0028},{"s":"TC+","c":30,"v":0.0026},{"s":"TC+","c":31,"v":0.0022},{"s":"TC+","c":32,"v":0.0035},
{"s":"TC-","c":1,"v":0.00042},{"s":"TC-","c":2,"v":0.00039},{"s":"TC-","c":3,"v":0.00036},{"s":"TC-","c":4,"v":0.00032},{"s":"TC-","c":5,"v":0.00037},{"s":"TC-","c":6,"v":0.00033},{"s":"TC-","c":7,"v":0.00041},{"s":"TC-","c":8,"v":0.00035},{"s":"TC-","c":9,"v":0.00035},{"s":"TC-","c":10,"v":0.00033},{"s":"TC-","c":11,"v":0.0003},{"s":"TC-","c":12,"v":0.00035},{"s":"TC-","c":13,"v":0.0007},{"s":"TC-","c":14,"v":0.0008},{"s":"TC-","c":15,"v":0.0008},{"s":"TC-","c":16,"v":0.0009},{"s":"TC-","c":17,"v":0.0009},{"s":"TC-","c":18,"v":0.001},{"s":"TC-","c":19,"v":0.0011},{"s":"TC-","c":20,"v":0.0011},{"s":"TC-","c":21,"v":0.0012},{"s":"TC-","c":22,"v":0.0012},{"s":"TC-","c":23,"v":0.0013},{"s":"TC-","c":24,"v":0.0014},{"s":"TC-","c":25,"v":0.0016},{"s":"TC-","c":26,"v":0.0018},{"s":"TC-","c":27,"v":0.002},{"s":"TC-","c":28,"v":0.002},{"s":"TC-","c":29,"v":0.0025},{"s":"TC-","c":30,"v":0.0033},{"s":"TC-","c":31,"v":0.0033},{"s":"TC-","c":32,"v":0.0037},
{"s":"TG+","c":1,"v":0.0003},{"s":"TG+","c":2,"v":0.00014},{"s":"TG+","c":3,"v":0.00015},{"s":"TG+","c":4,"v":0.00017},{"s":"TG+","c":5,"v":0.00016},{"s":"TG+","c":6,"v":0.00017},{"s":"TG+","c":7,"v":0.00014},{"s":"TG+","c":8,"v":0.00015},{"s":"TG+","c":9,"v":0.00013},{"s":"TG+","c":10,"v":0.00012},{"s":"TG+","c":11,"v":0.00011},{"s":"TG+","c":12,"v":0.0001},{"s":"TG+","c":13,"v":0.0004},{"s":"TG+","c":14,"v":0.0005},{"s":"TG+","c":15,"v":0.0005},{"s":"TG+","c":16,"v":0.0006},{"s":"TG+","c":17,"v":0.0007},{"s":"TG+","c":18,"v":0.0008},{"s":"TG+","c":19,"v":0.0009},{"s":"TG+","c":20,"v":0.0011},{"s":"TG+","c":21,"v":0.0013},{"s":"TG+","c":22,"v":0.002},{"s":"TG+","c":23,"v":0.0018},{"s":"TG+","c":24,"v":0.0016},{"s":"TG+","c":25,"v":0.0015},{"s":"TG+","c":26,"v":0.0022},{"s":"TG+","c":27,"v":0.0025},{"s":"TG+","c":28,"v":0.003},{"s":"TG+","c":29,"v":0.0036},{"s":"TG+","c":30,"v":0.0045},{"s":"TG+","c":31,"v":0.004},{"s":"TG+","c":32,"v":0.0045},
{"s":"TG-","c":1,"v":0.00038},{"s":"TG-","c":2,"v":0.00024},{"s":"TG-","c":3,"v":0.0002},{"s":"TG-","c":4,"v":0.00015},{"s":"TG-","c":5,"v":0.00014},{"s":"TG-","c":6,"v":0.00013},{"s":"TG-","c":7,"v":0.00011},{"s":"TG-","c":8,"v":0.00012},{"s":"TG-","c":9,"v":0.00013},{"s":"TG-","c":10,"v":0.00012},{"s":"TG-","c":11,"v":0.00011},{"s":"TG-","c":12,"v":0.0001},{"s":"TG-","c":13,"v":0.0004},{"s":"TG-","c":14,"v":0.0004},{"s":"TG-","c":15,"v":0.0005},{"s":"TG-","c":16,"v":0.0006},{"s":"TG-","c":17,"v":0.0006},{"s":"TG-","c":18,"v":0.0007},{"s":"TG-","c":19,"v":0.0008},{"s":"TG-","c":20,"v":0.0009},{"s":"TG-","c":21,"v":0.001},{"s":"TG-","c":22,"v":0.0017},{"s":"TG-","c":23,"v":0.002},{"s":"TG-","c":24,"v":0.0016},{"s":"TG-","c":25,"v":0.0035},{"s":"TG-","c":26,"v":0.003},{"s":"TG-","c":27,"v":0.0028},{"s":"TG-","c":28,"v":0.003},{"s":"TG-","c":29,"v":0.0048},{"s":"TG-","c":30,"v":0.0056},{"s":"TG-","c":31,"v":0.0052},{"s":"TG-","c":32,"v":0.0061},
{"s":"TN+","c":1,"v":0.00022},{"s":"TN+","c":2,"v":0.00016},{"s":"TN+","c":3,"v":0.00017},{"s":"TN+","c":4,"v":0.00018},{"s":"TN+","c":5,"v":0.0002},{"s":"TN+","c":6,"v":0.00018},{"s":"TN+","c":7,"v":0.00017},{"s":"TN+","c":8,"v":0.00018},{"s":"TN+","c":9,"v":0.00019},{"s":"TN+","c":10,"v":0.0002},{"s":"TN+","c":11,"v":0.00022},{"s":"TN+","c":12,"v":0.00023},{"s":"TN+","c":13,"v":0.0005},{"s":"TN+","c":14,"v":0.0005},{"s":"TN+","c":15,"v":0.0006},{"s":"TN+","c":16,"v":0.0006},{"s":"TN+","c":17,"v":0.0007},{"s":"TN+","c":18,"v":0.0007},{"s":"TN+","c":19,"v":0.0008},{"s":"TN+","c":20,"v":0.0009},{"s":"TN+","c":21,"v":0.001},{"s":"TN+","c":22,"v":0.001},{"s":"TN+","c":23,"v":0.0011},{"s":"TN+","c":24,"v":0.0012},{"s":"TN+","c":25,"v":0.0013},{"s":"TN+","c":26,"v":0.0014},{"s":"TN+","c":27,"v":0.0015},{"s":"TN+","c":28,"v":0.0017},{"s":"TN+","c":29,"v":0.0019},{"s":"TN+","c":30,"v":0.0021},{"s":"TN+","c":31,"v":0.0023},{"s":"TN+","c":32,"v":0.0025},
{"s":"TN-","c":1,"v":0.00004},{"s":"TN-","c":2,"v":0.00003},{"s":"TN-","c":3,"v":0.00003},{"s":"TN-","c":4,"v":0.00003},{"s":"TN-","c":5,"v":0.00003},{"s":"TN-","c":6,"v":0.00003},{"s":"TN-","c":7,"v":0.00003},{"s":"TN-","c":8,"v":0.00003},{"s":"TN-","c":9,"v":0.00003},{"s":"TN-","c":10,"v":0.00003},{"s":"TN-","c":11,"v":0.00003},{"s":"TN-","c":12,"v":0.00003},{"s":"TN-","c":13,"v":0.00003},{"s":"TN-","c":14,"v":0.00003},{"s":"TN-","c":15,"v":0.00003},{"s":"TN-","c":16,"v":0.00003},{"s":"TN-","c":17,"v":0.00003},{"s":"TN-","c":18,"v":0.00003},{"s":"TN-","c":19,"v":0.00003},{"s":"TN-","c":20,"v":0.00003},{"s":"TN-","c":21,"v":0.00003},{"s":"TN-","c":22,"v":0.00003},{"s":"TN-","c":23,"v":0.00003},{"s":"TN-","c":24,"v":0.00003},{"s":"TN-","c":25,"v":0.00003},{"s":"TN-","c":26,"v":0.0008},{"s":"TN-","c":27,"v":0.0001},{"s":"TN-","c":28,"v":0.0009},{"s":"TN-","c":29,"v":0.0001},{"s":"TN-","c":30,"v":0.00005},{"s":"TN-","c":31,"v":0.00005},{"s":"TN-","c":32,"v":0.00015}
],
"b": [
{"r":"Run 4","c":1,"m":0.000104,"lo":0.000075,"hi":0.000137},{"r":"Run 4","c":2,"m":0.000137,"lo":0.000104,"hi":0.00017},{"r":"Run 4","c":3,"m":0.000075,"lo":0.000005,"hi":0.000146},{"r":"Run 4","c":4,"m":0.000075,"lo":0.00001,"hi":0.000137},{"r":"Run 4","c":5,"m":0.000113,"lo":0.000038,"hi":0.000193},{"r":"Run 4","c":6,"m":0.000066,"lo":0.000028,"hi":0.000104},{"r":"Run 4","c":7,"m":0.000113,"lo":0.00008,"hi":0.00015},{"r":"Run 4","c":8,"m":0.000104,"lo":0.000066,"hi":0.00014},{"r":"Run 4","c":9,"m":0.00017,"lo":0.000066,"hi":0.00028},{"r":"Run 4","c":10,"m":0.00034,"lo":0.00029,"hi":0.000387},{"r":"Run 4","c":11,"m":0.00042,"lo":0.000325,"hi":0.00052},{"r":"Run 4","c":12,"m":0.000467,"lo":0.000325,"hi":0.00061},{"r":"Run 4","c":13,"m":0.0045,"lo":0.004,"hi":0.0053},{"r":"Run 4","c":14,"m":0.0075,"lo":0.0072,"hi":0.0077},{"r":"Run 4","c":15,"m":0.0066,"lo":0.0055,"hi":0.0074},{"r":"Run 4","c":16,"m":0.0081,"lo":0.0074,"hi":0.0088},{"r":"Run 4","c":17,"m":0.0097,"lo":0.0088,"hi":0.0105},{"r":"Run 4","c":18,"m":0.0094,"lo":0.0082,"hi":0.0102},{"r":"Run 4","c":19,"m":0.0104,"lo":0.0094,"hi":0.0113},{"r":"Run 4","c":20,"m":0.0133,"lo":0.012,"hi":0.0144},{"r":"Run 4","c":21,"m":0.015,"lo":0.014,"hi":0.0161},{"r":"Run 4","c":22,"m":0.0197,"lo":0.0175,"hi":0.0219},{"r":"Run 4","c":23,"m":0.0223,"lo":0.0195,"hi":0.0243},{"r":"Run 4","c":24,"m":0.0233,"lo":0.0208,"hi":0.0262},{"r":"Run 4","c":25,"m":0.032,"lo":0.0288,"hi":0.0352},{"r":"Run 4","c":26,"m":0.0326,"lo":0.028,"hi":0.0362},{"r":"Run 4","c":27,"m":0.0307,"lo":0.0294,"hi":0.032},{"r":"Run 4","c":28,"m":0.037,"lo":0.031,"hi":0.0426},{"r":"Run 4","c":29,"m":0.046,"lo":0.042,"hi":0.0496},{"r":"Run 4","c":30,"m":0.0478,"lo":0.0442,"hi":0.0509},{"r":"Run 4","c":31,"m":0.0451,"lo":0.0414,"hi":0.0484},{"r":"Run 4","c":32,"m":0.0558,"lo":0.0535,"hi":0.059},
{"r":"Run 3","c":1,"m":0.00016,"lo":0.000085,"hi":0.00024},{"r":"Run 3","c":2,"m":0.00031,"lo":0.000245,"hi":0.00037},{"r":"Run 3","c":3,"m":0.000137,"lo":0.000028,"hi":0.00026},{"r":"Run 3","c":4,"m":0.000104,"lo":-0.000038,"hi":0.00023},{"r":"Run 3","c":5,"m":0.000137,"lo":0.000028,"hi":0.000255},{"r":"Run 3","c":6,"m":0.00022,"lo":0.000066,"hi":0.00037},{"r":"Run 3","c":7,"m":0.000208,"lo":0.000175,"hi":0.00024},{"r":"Run 3","c":8,"m":0.000217,"lo":0.00019,"hi":0.000245},{"r":"Run 3","c":9,"m":0.00028,"lo":0.00012,"hi":0.00042},{"r":"Run 3","c":10,"m":0.000245,"lo":0.00018,"hi":0.000377},{"r":"Run 3","c":11,"m":0.000245,"lo":0.00013,"hi":0.00034},{"r":"Run 3","c":12,"m":0.00027,"lo":0.000255,"hi":0.00029},{"r":"Run 3","c":13,"m":0.001,"lo":0.0008,"hi":0.0012},{"r":"Run 3","c":14,"m":0.0007,"lo":0.0005,"hi":0.0009},{"r":"Run 3","c":15,"m":0.0013,"lo":0.0011,"hi":0.0015},{"r":"Run 3","c":16,"m":0.0021,"lo":0.0017,"hi":0.0025},{"r":"Run 3","c":17,"m":0.0027,"lo":0.0022,"hi":0.0031},{"r":"Run 3","c":18,"m":0.0023,"lo":0.002,"hi":0.0026},{"r":"Run 3","c":19,"m":0.0023,"lo":0.002,"hi":0.0026},{"r":"Run 3","c":20,"m":0.0052,"lo":0.0045,"hi":0.0058},{"r":"Run 3","c":21,"m":0.003,"lo":0.0025,"hi":0.0035},{"r":"Run 3","c":22,"m":0.0062,"lo":0.0058,"hi":0.0066},{"r":"Run 3","c":23,"m":0.0055,"lo":0.005,"hi":0.006},{"r":"Run 3","c":24,"m":0.0055,"lo":0.005,"hi":0.006},{"r":"Run 3","c":25,"m":0.0088,"lo":0.0084,"hi":0.0092},{"r":"Run 3","c":26,"m":0.0084,"lo":0.0079,"hi":0.0089},{"r":"Run 3","c":27,"m":0.0125,"lo":0.0122,"hi":0.0128},{"r":"Run 3","c":28,"m":0.0135,"lo":0.0105,"hi":0.0166},{"r":"Run 3","c":29,"m":0.0195,"lo":0.018,"hi":0.0211},{"r":"Run 3","c":30,"m":0.019,"lo":0.0182,"hi":0.0196},{"r":"Run 3","c":31,"m":0.0208,"lo":0.0188,"hi":0.0226},{"r":"Run 3","c":32,"m":0.029,"lo":0.0255,"hi":0.0335},
{"r":"Run 2","c":1,"m":0.00048,"lo":0.000406,"hi":0.00055},{"r":"Run 2","c":2,"m":0.0005,"lo":0.00031,"hi":0.00068},{"r":"Run 2","c":3,"m":0.000585,"lo":0.00049,"hi":0.00067},{"r":"Run 2","c":4,"m":0.000406,"lo":0.000217,"hi":0.000585},{"r":"Run 2","c":5,"m":0.00071,"lo":0.000476,"hi":0.00095},{"r":"Run 2","c":6,"m":0.00042,"lo":0.00015,"hi":0.00069},{"r":"Run 2","c":7,"m":0.000887,"lo":0.000538,"hi":0.001245},{"r":"Run 2","c":8,"m":0.000406,"lo":0.000316,"hi":0.00049},{"r":"Run 2","c":9,"m":0.00053,"lo":0.00038,"hi":0.000665},{"r":"Run 2","c":10,"m":0.00063,"lo":0.000377,"hi":0.000887},{"r":"Run 2","c":11,"m":0.00069,"lo":0.00043,"hi":0.00095},{"r":"Run 2","c":12,"m":0.00049,"lo":0.00045,"hi":0.00053},{"r":"Run 2","c":13,"m":0.0024,"lo":0.0015,"hi":0.0032},{"r":"Run 2","c":14,"m":0.003,"lo":0.0022,"hi":0.0037},{"r":"Run 2","c":15,"m":0.0039,"lo":0.0033,"hi":0.0044},{"r":"Run 2","c":16,"m":0.0048,"lo":0.003,"hi":0.0066},{"r":"Run 2","c":17,"m":0.0045,"lo":0.0037,"hi":0.0053},{"r":"Run 2","c":18,"m":0.0037,"lo":0.0029,"hi":0.0046},{"r":"Run 2","c":19,"m":0.0037,"lo":0.0032,"hi":0.0043},{"r":"Run 2","c":20,"m":0.0053,"lo":0.004,"hi":0.007},{"r":"Run 2","c":21,"m":0.004,"lo":0.003,"hi":0.0048},{"r":"Run 2","c":22,"m":0.0061,"lo":0.0053,"hi":0.0068},{"r":"Run 2","c":23,"m":0.0055,"lo":0.0045,"hi":0.0067},{"r":"Run 2","c":24,"m":0.0049,"lo":0.0036,"hi":0.0059},{"r":"Run 2","c":25,"m":0.0075,"lo":0.0066,"hi":0.0084},{"r":"Run 2","c":26,"m":0.0072,"lo":0.006,"hi":0.0084},{"r":"Run 2","c":27,"m":0.0081,"lo":0.0068,"hi":0.009},{"r":"Run 2","c":28,"m":0.0071,"lo":0.0066,"hi":0.0077},{"r":"Run 2","c":29,"m":0.0098,"lo":0.0088,"hi":0.0105},{"r":"Run 2","c":30,"m":0.01,"lo":0.0084,"hi":0.0117},{"r":"Run 2","c":31,"m":0.0081,"lo":0.0077,"hi":0.0088},{"r":"Run 2","c":32,"m":0.0146,"lo":0.0123,"hi":0.0176},
{"r":"Run 1","c":1,"m":0.000066,"lo":-0.00001,"hi":0.000137},{"r":"Run 1","c":2,"m":0.00016,"lo":0.0001,"hi":0.00031},{"r":"Run 1","c":3,"m":0.00022,"lo":0.000137,"hi":0.0003},{"r":"Run 1","c":4,"m":0.000208,"lo":0.000104,"hi":0.00027},{"r":"Run 1","c":5,"m":0.00022,"lo":0.000038,"hi":0.00041},{"r":"Run 1","c":6,"m":0.00009,"lo":0,"hi":0.00015},{"r":"Run 1","c":7,"m":0.00017,"lo":-0.000146,"hi":0.00054},{"r":"Run 1","c":8,"m":0.000208,"lo":0.000113,"hi":0.000316},{"r":"Run 1","c":9,"m":0.000208,"lo":0.000066,"hi":0.000325},{"r":"Run 1","c":10,"m":0.00022,"lo":0.00017,"hi":0.00031},{"r":"Run 1","c":11,"m":0.00034,"lo":0.000028,"hi":0.00068},{"r":"Run 1","c":12,"m":0.000387,"lo":0.00015,"hi":0.0005},{"r":"Run 1","c":13,"m":0.0023,"lo":0.0014,"hi":0.003},{"r":"Run 1","c":14,"m":0.003,"lo":0.0014,"hi":0.0048},{"r":"Run 1","c":15,"m":0.0062,"lo":0.0039,"hi":0.0088},{"r":"Run 1","c":16,"m":0.013,"lo":0.0116,"hi":0.0144},{"r":"Run 1","c":17,"m":0.0148,"lo":0.011,"hi":0.018},{"r":"Run 1","c":18,"m":0.0094,"lo":0.0082,"hi":0.0135},{"r":"Run 1","c":19,"m":0.0113,"lo":0.0082,"hi":0.0132},{"r":"Run 1","c":20,"m":0.021,"lo":0.0186,"hi":0.0236},{"r":"Run 1","c":21,"m":0.0156,"lo":0.0139,"hi":0.0167},{"r":"Run 1","c":22,"m":0.0333,"lo":0.0312,"hi":0.0355},{"r":"Run 1","c":23,"m":0.0249,"lo":0.0229,"hi":0.0264},{"r":"Run 1","c":24,"m":0.0246,"lo":0.0206,"hi":0.0283},{"r":"Run 1","c":25,"m":0.0398,"lo":0.0362,"hi":0.0433},{"r":"Run 1","c":26,"m":0.0382,"lo":0.0345,"hi":0.0414},{"r":"Run 1","c":27,"m":0.0526,"lo":0.0472,"hi":0.0575},{"r":"Run 1","c":28,"m":0.0537,"lo":0.0477,"hi":0.0597},{"r":"Run 1","c":29,"m":0.0771,"lo":0.0722,"hi":0.0823},{"r":"Run 1","c":30,"m":0.0786,"lo":0.0696,"hi":0.0873},{"r":"Run 1","c":31,"m":0.0848,"lo":0.0812,"hi":0.0891},{"r":"Run 1","c":32,"m":0.1158,"lo":0.1091,"hi":0.1226}
]
},
"layer": [
{
 "data": {"name": "a"},
 "layer": [
  {
   "mark": {"type": "line", "strokeWidth": 2},
   "encoding": {
    "x": {"field": "c", "type": "quantitative",
     "scale": {"domain": [0.5, 32], "range": [118.6, 832], "nice": false, "zero": false},
     "axis": {"orient": "bottom", "offset": -514, "values": [0,1,2,3,4,5,6,7,8,9,10,11,12,13,14,15,16,17,18,19,20,21,22,23,24,25,26,27,28,29,30,31], "tickOffset": 11.33, "labelOffset": -11.33, "labelExpr": "datum.value % 2 == 1 ? datum.label : ''", "labelFontSize": 20, "labelPadding": 6, "tickSize": 8, "labelOverlap": false, "domainColor": "#bbb", "tickColor": "#aaa",
      "title": "a", "titleX": 129, "titleY": -448, "titleAngle": 0, "titleAlign": "left", "titleBaseline": "alphabetic", "titleFontSize": 34}},
    "y": {"field": "v", "type": "quantitative",
     "scale": {"domain": [0, 0.052], "range": [536, 39], "nice": false},
     "axis": {"orient": "left", "offset": -118.6, "values": [0, 0.01, 0.02, 0.03, 0.04, 0.05], "format": "~g", "labelFontSize": 19, "tickSize": 7, "labelPadding": 2, "domainColor": "#bbb", "tickColor": "#aaa",
      "title": "Likelihood of error", "titleX": -80.6, "titleY": 525, "titleAngle": -90, "titleAlign": "center", "titleBaseline": "middle", "titleFontSize": 27}},
    "color": {"field": "s", "type": "nominal",
     "scale": {"domain": ["AC+","AC-","AG+","AG-","AT+","AT-","AN+","AN-","CA+","CA-","CG+","CG-","CT+","CT-","CN+","CN-","GA+","GA-","GC+","GC-","GT+","GT-","GN+","GN-","TA+","TA-","TC+","TC-","TG+","TG-","TN+","TN-"],
      "range": ["#1f2a6e","#b44ba6","#f2e82a","#5ccbe0","#6a2a8a","#8b1a1a","#1a7070","#2d4fa8","#2bb5e8","#c6e8f5","#b9dfa5","#f6f07a","#9ec4ec","#f08bb8","#b39ad6","#fbbf7c","#4f6fbf","#35c4c8","#8cc63f","#fbbf0f","#f7941d","#f26522","#6a6aa8","#aaaaaa","#1c3170","#2e9a6a","#1c3a1c","#3b3b1f","#a8321e","#9a2a70","#27358f","#111111"]},
     "legend": {"orient": "none", "legendX": 852, "legendY": 35.4, "title": null, "symbolType": "M-1,0H4.66", "symbolSize": 150, "symbolStrokeWidth": 2.5, "labelFontSize": 15.8, "labelOffset": 26.4, "rowPadding": 0, "padding": 0, "symbolLimit": 40,
      "labelExpr": "substring(datum.label,0,1)+' to '+substring(datum.label,1,2)+' ('+substring(datum.label,2,3)+')'"}}
   }
  },
  {
   "transform": [{"filter": "datum.c <= 12"}],
   "mark": {"type": "line", "strokeWidth": 1},
   "encoding": {
    "x": {"field": "c", "type": "quantitative",
     "scale": {"domain": [0.5, 12.5], "range": [220, 609.5], "nice": false, "zero": false},
     "axis": {"orient": "bottom", "offset": -790.7, "values": [0,1,2,3,4,5,6,7,8,9,10,11,12], "tickOffset": 16.23, "labelOffset": -16.23, "labelExpr": "datum.value >= 1 ? datum.label : ''", "labelFontSize": 12, "labelPadding": 6, "tickSize": 4, "labelOverlap": false, "domainColor": "#ccc", "tickColor": "#ccc", "title": null}},
    "y": {"field": "v", "type": "quantitative",
     "scale": {"domain": [0, 0.0025], "range": [259.3, 64.3], "nice": false},
     "axis": {"orient": "left", "offset": -220, "values": [0, 0.0005, 0.001, 0.0015, 0.002, 0.0025], "format": "~g", "labelFontSize": 12, "tickSize": 4, "labelPadding": 4, "domainColor": "#ccc", "tickColor": "#ccc", "title": null}},
    "color": {"field": "s", "type": "nominal"}
   }
  }
 ],
 "resolve": {"scale": {"x": "independent", "y": "independent"}}
},
{
 "data": {"name": "b"},
 "layer": [
  {
   "layer": [
    {
     "mark": {"type": "line", "strokeWidth": 1.5},
     "encoding": {
      "x": {"field": "c", "type": "quantitative",
       "scale": {"domain": [0, 32.2], "range": [117, 902.7], "nice": false, "zero": false},
       "axis": {"orient": "bottom", "offset": -79, "values": [0,1,2,3,4,5,6,7,8,9,10,11,12,13,14,15,16,17,18,19,20,21,22,23,24,25,26,27,28,29,30,31,32], "format": "d", "labelOverlap": false, "labelSeparation": 0, "labelFontSize": 15, "labelPadding": 3, "tickSize": 5, "domainColor": "#777", "tickColor": "#777",
        "title": "Cycle Number", "titleX": 490, "titleY": 49, "titleAngle": 0, "titleAlign": "center", "titleBaseline": "middle", "titleFontSize": 27}},
      "y": {"field": "m", "type": "quantitative",
       "scale": {"domain": [0, 0.126], "range": [971, 645.6], "nice": false},
       "axis": {"orient": "left", "offset": -117, "values": [0, 0.02, 0.04, 0.06, 0.08, 0.1, 0.12], "format": "~g", "labelFontSize": 18, "tickSize": 5, "labelPadding": 2, "domainColor": "#777", "tickColor": "#777",
        "title": "b", "titleX": 19, "titleY": 683, "titleAngle": 0, "titleAlign": "left", "titleBaseline": "alphabetic", "titleFontSize": 34}},
      "color": {"field": "r", "type": "nominal",
       "scale": {"domain": ["Run 4", "Run 3", "Run 2", "Run 1"], "range": ["#3d3dff", "#22dd22", "#ff2a2a", "#c4c4c4"]},
       "legend": {"orient": "none", "legendX": 674, "legendY": 669, "title": null, "fillColor": "white", "strokeColor": "#e6e6e6", "padding": 4, "symbolType": "M-1,0H2.2", "symbolSize": 290, "symbolStrokeWidth": 2, "labelFontSize": 15, "labelOffset": 15, "rowPadding": 1.4}}
     }
    },
    {
     "mark": {"type": "rule", "strokeWidth": 1.5},
     "encoding": {
      "x": {"field": "c", "type": "quantitative"},
      "y": {"field": "lo", "type": "quantitative"},
      "y2": {"field": "hi"},
      "stroke": {"field": "r", "type": "nominal", "scale": {"domain": ["Run 4", "Run 3", "Run 2", "Run 1"], "range": ["#2a2aff", "#22cc22", "#ff2020", "#3a3a3a"]}, "legend": null}
     }
    },
    {
     "mark": {"type": "tick", "orient": "horizontal", "size": 18, "thickness": 1.5},
     "encoding": {
      "x": {"field": "c", "type": "quantitative"},
      "y": {"field": "lo", "type": "quantitative"},
      "fill": {"field": "r", "type": "nominal", "scale": {"domain": ["Run 4", "Run 3", "Run 2", "Run 1"], "range": ["#2a2aff", "#22cc22", "#ff2020", "#3a3a3a"]}, "legend": null}
     }
    },
    {
     "mark": {"type": "tick", "orient": "horizontal", "size": 18, "thickness": 1.5},
     "encoding": {
      "x": {"field": "c", "type": "quantitative"},
      "y": {"field": "hi", "type": "quantitative"},
      "fill": {"field": "r", "type": "nominal"}
     }
    }
   ]
  },
  {
   "layer": [
    {
     "transform": [{"filter": "datum.c <= 13"}],
     "mark": {"type": "line", "strokeWidth": 1},
     "encoding": {
      "x": {"field": "c", "type": "quantitative",
       "scale": {"domain": [0, 12.35], "range": [176, 568], "nice": false, "zero": false, "clamp": true},
       "axis": {"orient": "bottom", "offset": -228, "values": [0,1,2,3,4,5,6,7,8,9,10,11,12], "format": "d", "labelOverlap": false, "labelFontSize": 11, "labelPadding": 3, "tickSize": 4, "labelColor": "#222", "domainColor": "#bbb", "tickColor": "#999", "title": null}},
      "y": {"field": "m", "type": "quantitative",
       "scale": {"domain": [-0.0003, 0.00212], "range": [822, 653], "nice": false, "zero": false, "clamp": true},
       "axis": {"orient": "left", "offset": -176, "values": [0, 0.0005, 0.001, 0.0015, 0.002], "labelExpr": "format(datum.value*10000, '.0f')", "labelFontSize": 11, "tickSize": 4, "labelPadding": 2, "labelColor": "#222", "domainColor": "#bbb", "tickColor": "#999",
        "title": "x 10⁻⁴", "titleX": 2, "titleY": 659, "titleAngle": 0, "titleAlign": "left", "titleBaseline": "alphabetic", "titleFontSize": 10, "titleColor": "#222"}},
      "color": {"field": "r", "type": "nominal"}
     }
    },
    {
     "transform": [{"filter": "datum.c <= 12"}],
     "mark": {"type": "rule", "strokeWidth": 1, "opacity": 0.65},
     "encoding": {
      "x": {"field": "c", "type": "quantitative"},
      "y": {"field": "lo", "type": "quantitative"},
      "y2": {"field": "hi"},
      "stroke": {"field": "r", "type": "nominal"}
     }
    },
    {
     "transform": [{"filter": "datum.c <= 12"}],
     "mark": {"type": "tick", "orient": "horizontal", "size": 19, "thickness": 1.2, "opacity": 0.65},
     "encoding": {
      "x": {"field": "c", "type": "quantitative"},
      "y": {"field": "lo", "type": "quantitative"},
      "fill": {"field": "r", "type": "nominal"}
     }
    },
    {
     "transform": [{"filter": "datum.c <= 12"}],
     "mark": {"type": "tick", "orient": "horizontal", "size": 19, "thickness": 1.2, "opacity": 0.65},
     "encoding": {
      "x": {"field": "c", "type": "quantitative"},
      "y": {"field": "hi", "type": "quantitative"},
      "fill": {"field": "r", "type": "nominal"}
     }
    }
   ]
  }
 ],
 "resolve": {"scale": {"x": "independent", "y": "independent"}}
}
],
"resolve": {"scale": {"x": "independent", "y": "independent", "color": "independent"}}
}
